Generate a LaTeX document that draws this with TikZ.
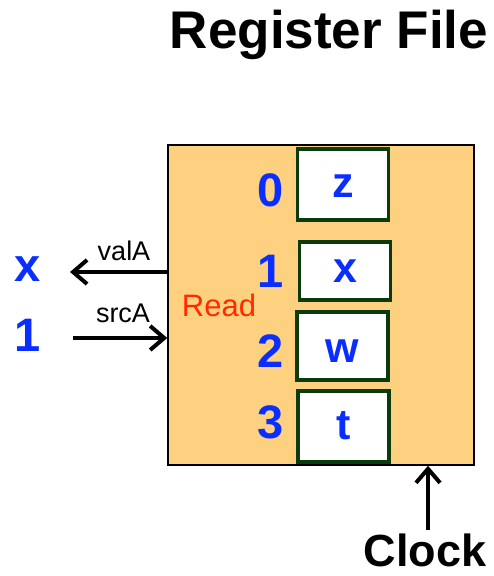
\documentclass[tikz,border=0pt]{standalone}
\usepackage{fontspec}
\setmainfont{Liberation Sans}
\usetikzlibrary{arrows.meta}
\definecolor{rfblue}{HTML}{0A2EFF}
\definecolor{rfgreen}{HTML}{0B3A0B}
\definecolor{rforange}{HTML}{FDD17F}
\definecolor{rfred}{HTML}{FF2A00}

\begin{document}
\begin{tikzpicture}[x=1pt,y=1pt,
  reg/.style={draw=rfgreen,line width=3.5pt,fill=white,minimum width=91pt,inner sep=0pt},
  idx/.style={text=rfblue,font=\fontsize{47}{47}\selectfont\bfseries},
  val/.style={text=rfblue,font=\fontsize{43}{43}\selectfont\bfseries},
  sig/.style={font=\fontsize{27}{27}\selectfont,anchor=base},
  arr/.style={line width=4pt,-{Straight Barb[length=14pt,width=24pt,line width=4pt]}}]
\useasboundingbox (0,0) rectangle (494,576);
\node[draw,line width=1.5pt,fill=rforange,minimum width=306pt,minimum height=320pt,inner sep=0pt] (rf) at (321,271) {};
\node[font=\fontsize{53}{53}\selectfont\bfseries,inner sep=0pt] (title) at (329,541) {Register File};
% registers
\node[reg,minimum height=71pt] (r0) at (343,391.5) {};
\node[reg,minimum height=58pt] (r1) at (345,305) {};
\node[reg,minimum height=68pt] (r2) at (342.5,230) {};
\node[reg,minimum height=71pt] (r3) at (343.5,149.5) {};
\node[val] at (343,390) {z};
\node[val] at (345,305) {x};
\node[val] at (342.5,225) {w};
\node[val] at (343.5,150) {t};
\node[idx] (i0) at (271,386) {0};
\node[idx] (i1) at (271,305) {1};
\node[idx] (i2) at (271,225) {2};
\node[idx] (i3) at (271,154) {3};
\node[text=rfred,font=\fontsize{31}{31}\selectfont] (read) at (219,271) {Read};
% ports
\node[idx] (xout) at (28,307) {x};
\node[idx] (srcin) at (28,241) {1};
\coordinate (valAend) at (70,304);
\coordinate (srcAbeg) at (73,238);
\draw[arr] (rf.west |- valAend) -- (valAend);
\draw[arr] (srcAbeg) -- (rf.west |- srcAbeg);
\node[sig] (valA) at (124,315) {valA};
\node[sig] (srcA) at (123,253) {srcA};
% clock
\coordinate (clk) at (428,46);
\draw[arr] (clk) -- (clk |- rf.south);
\node[font=\fontsize{45}{45}\selectfont\bfseries,inner sep=0pt] (clock) at (425,26) {Clock};
\end{tikzpicture}
\end{document}
